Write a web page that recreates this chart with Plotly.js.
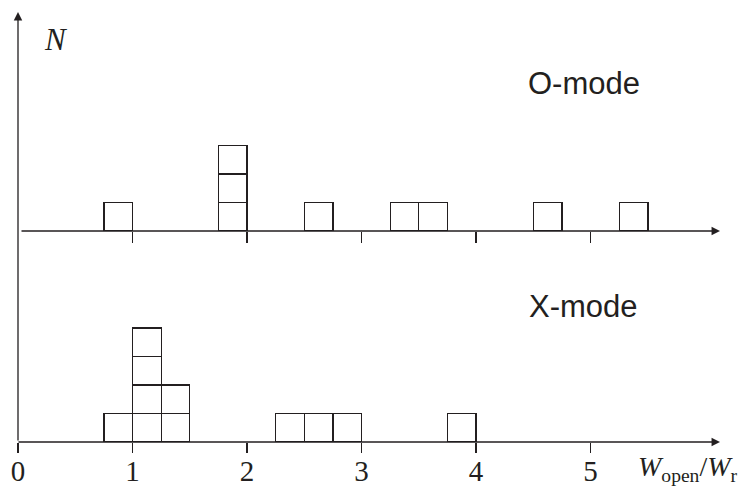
<!DOCTYPE html>
<html>
<head>
<meta charset="utf-8">
<script src="https://cdn.plot.ly/plotly-3.0.1.min.js"></script>
<style>html,body{margin:0;padding:0;background:#fff;}#chart{width:750px;height:487px;}</style>
</head>
<body>
<div id="chart"></div>
<script>
// Data: bin centers (W_open / W_r) and number of events per bin
const oModeCenters = [0.875, 1.875, 2.625, 3.375, 3.625, 4.625, 5.375];
const oModeCounts  = [1, 3, 1, 1, 1, 1, 1];
const xModeCenters = [0.875, 1.125, 1.375, 2.375, 2.625, 2.875, 3.875];
const xModeCounts  = [1, 4, 2, 1, 1, 1, 1];
const binWidth = 0.25;
const tickValues = [0, 1, 2, 3, 4, 5];
const tickLabels = ['0', '1', '2', '3', '4', '5'];
const panelLabels = ['O-mode', 'X-mode'];

const lineCol = '#231f20';

function stackedTraces(centers, counts, xa, ya) {
  const maxN = Math.max(...counts);
  const traces = [];
  for (let level = 1; level <= maxN; level++) {
    const xs = [], ys = [];
    centers.forEach((c, i) => { if (counts[i] >= level) { xs.push(c); ys.push(1); } });
    traces.push({
      type: 'bar', x: xs, y: ys, width: binWidth,
      xaxis: xa, yaxis: ya,
      marker: {color: 'rgba(0,0,0,0)', line: {color: lineCol, width: 1.3}},
      hoverinfo: 'skip', showlegend: false
    });
  }
  return traces;
}

const data = [].concat(
  stackedTraces(xModeCenters, xModeCounts, 'x', 'y'),
  stackedTraces(oModeCenters, oModeCounts, 'x2', 'y2')
);

const serif = 'Liberation Serif, Times New Roman, serif';
const sans = 'Liberation Sans, Arial, Helvetica, sans-serif';

const layout = {
  width: 750, height: 487,
  margin: {l: 18, r: 30, t: 12, b: 45},
  paper_bgcolor: '#fff', plot_bgcolor: 'rgba(0,0,0,0)',
  barmode: 'stack', bargap: 0,
  showlegend: false,
  xaxis: {
    range: [0, 6.13], anchor: 'y', domain: [0, 1],
    tickmode: 'array', tickvals: tickValues, ticktext: tickLabels,
    ticks: 'outside', ticklen: 10, tickwidth: 1.3, tickcolor: lineCol,
    ticklabelstandoff: -7,
    showline: false, showgrid: false, zeroline: false,
    tickfont: {family: serif, size: 29, color: lineCol}
  },
  xaxis2: {
    range: [0, 6.13], anchor: 'y2', matches: 'x',
    tickmode: 'array', tickvals: tickValues.slice(1),
    ticks: 'outside', ticklen: 11, tickwidth: 1.3, tickcolor: lineCol,
    showticklabels: false, showline: false, showgrid: false, zeroline: false
  },
  yaxis: {
    domain: [0, 0.47], range: [0, 7.09],
    visible: false, showgrid: false, zeroline: false
  },
  yaxis2: {
    domain: [0.4907, 1], range: [0, 7.684],
    visible: false, showgrid: false, zeroline: false
  },
  annotations: [
    // vertical N axis with arrow
    {xref: 'paper', yref: 'paper', x: 0, y: 1, ax: 0, ay: 430, axref: 'pixel', ayref: 'pixel',
     text: '', showarrow: true, arrowhead: 2, arrowsize: 1.3, arrowwidth: 1.3, arrowcolor: lineCol, standoff: 0},
    // bottom horizontal axis with arrow
    {xref: 'paper', yref: 'y', x: 1, y: 0, ax: -703, ay: 0,
     text: '', showarrow: true, arrowhead: 2, arrowsize: 1.3, arrowwidth: 1.3, arrowcolor: lineCol, standoff: 0},
    // top horizontal axis with arrow
    {xref: 'paper', yref: 'y2', x: 1, y: 0, ax: -700, ay: 0,
     text: '', showarrow: true, arrowhead: 2, arrowsize: 1.3, arrowwidth: 1.3, arrowcolor: lineCol, standoff: 0},
    {xref: 'paper', yref: 'paper', x: 0.0541, y: 0.935, xanchor: 'center', yanchor: 'middle',
     text: '<i>N</i>', showarrow: false,
     font: {family: serif, size: 31, color: lineCol}},
    {xref: 'paper', yref: 'paper', x: 0.806, y: 0.8326, xanchor: 'center', yanchor: 'middle',
     text: panelLabels[0], showarrow: false,
     font: {family: sans, size: 31, color: lineCol}},
    {xref: 'paper', yref: 'paper', x: 0.805, y: 0.316, xanchor: 'center', yanchor: 'middle',
     text: panelLabels[1], showarrow: false,
     font: {family: sans, size: 31, color: lineCol}},
    {xref: 'paper', yref: 'paper', x: 0.955, y: -0.062, xanchor: 'center', yanchor: 'middle',
     text: '<i>W</i><sub>open</sub>/<i>W</i><sub>r</sub>', showarrow: false,
     font: {family: serif, size: 28, color: lineCol}}
  ]
};

Plotly.newPlot('chart', data, layout, {displayModeBar: false, staticPlot: true});
</script>
</body>
</html>
